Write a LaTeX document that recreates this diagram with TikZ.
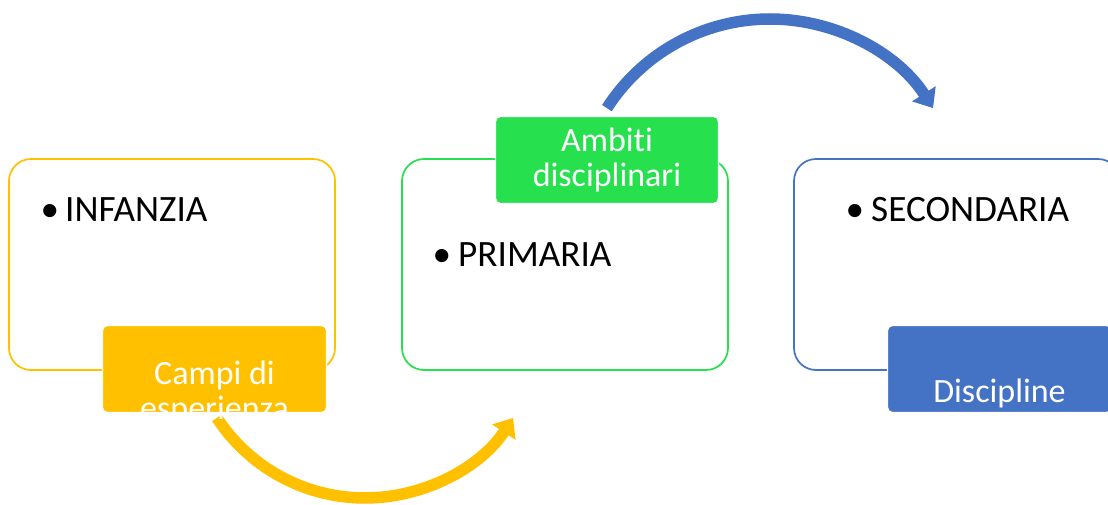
\documentclass[tikz,border=0pt]{standalone}
\usepackage{fontspec}
\setmainfont[Ligatures=NoCommon,RawFeature=-liga]{Carlito}
\usetikzlibrary{arrows.meta}
\definecolor{yel}{HTML}{FFC000}
\definecolor{grn}{HTML}{26E04E}
\definecolor{blu}{HTML}{4472C4}
\begin{document}
\begin{tikzpicture}[x=1pt,y=-1pt,
  stage/.style={draw, line width=1.7pt, rounded corners=22pt, fill=white, inner sep=0pt},
  tag/.style={draw=white, line width=1.2pt, rounded corners=5pt, inner sep=0pt},
  bigtxt/.style={font=\fontsize{37.2}{44}\selectfont, inner sep=0pt, anchor=base west},
  bul/.style={font=\fontsize{37.2}{44}\selectfont, inner sep=0pt, anchor=base},
  tagtxt/.style={font=\fontsize{34}{35}\selectfont, text=white, inner sep=0pt, anchor=base},
  arr/.style={line width=11.5pt, -{Triangle[length=17pt,width=27pt]}}
]
\useasboundingbox (0,0) rectangle (1108,505);
\clip (0,0) rectangle (1108,505);

% stage boxes
\node[stage, draw=yel, minimum width=326pt, minimum height=211pt] (b1) at (172,264.5) {};
\node[stage, draw=grn, minimum width=326pt, minimum height=211pt] (b2) at (565,264.5) {};
\node[stage, draw=blu, minimum width=326pt, minimum height=211pt] (b3) at (957,264.5) {};

% tags
\node[tag, fill=yel, minimum width=224pt, minimum height=87pt] (t1) at (214.5,369) {};
\node[tag, fill=grn, minimum width=223pt, minimum height=87pt] (t2) at (607,160) {};
\node[tag, fill=blu, minimum width=224pt, minimum height=87pt] (t3) at (999.5,369) {};

% arrows
\coordinate (ys) at (216.9,417.9);
\draw[arr, yel] (ys) arc[start angle=146.8, end angle=33.2, radius=177];
\coordinate (bs) at (606.9,108.1);
\draw[arr, blu] (bs) arc[start angle=-147.3, end angle=-32.7, radius=193.8];

% main texts
\node[bul] (d1) at (50,222) {•};
\node[bigtxt] (x1) at (65,222) {INFANZIA};
\node[bul] (d2) at (442,266) {•};
\node[bigtxt] (x2) at (458,266) {PRIMARIA};
\node[bul] (d3) at (855,222) {•};
\node[bigtxt] (x3) at (871,222) {SECONDARIA};

% tag texts
\node[tagtxt] (c1a) at (214.5,384) {Campi di};
\node[tagtxt] (c1b) at (214.5,419) {esperienza};
\node[tagtxt] (c2a) at (607,152) {Ambiti};
\node[tagtxt] (c2b) at (607,187) {disciplinari};
\node[tagtxt] (c3a) at (999.5,402) {Discipline};
\end{tikzpicture}
\end{document}
